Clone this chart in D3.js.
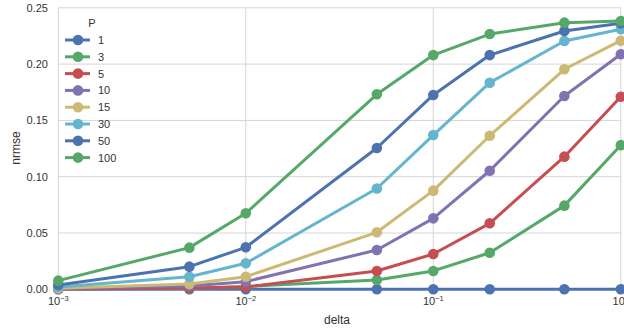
<!DOCTYPE html>
<html><head><meta charset="utf-8">
<script src="https://cdn.jsdelivr.net/npm/d3@7"></script>
<style>body{margin:0;background:#fff}svg{display:block;font-family:"Liberation Sans",Arial,sans-serif}</style>
</head><body><svg id="c" width="624" height="331"></svg>
<script>
const deltas = [0.001, 0.005, 0.01, 0.05, 0.1, 0.2, 0.5, 1.0];
const pLabels = ["1", "3", "5", "10", "15", "30", "50", "100"];
const colors = ["#4c72b0", "#55a868", "#c44e52", "#8172b2", "#ccb974", "#64b5cd", "#4c72b0", "#55a868"];
const p1   = [0, 0, 0, 0, 0, 0, 0, 0];
const p3   = [0.0004, 0.001, 0.0025, 0.0083, 0.0163, 0.0325, 0.0743, 0.128];
const p5   = [0.0003, 0.0012, 0.002, 0.0163, 0.0313, 0.0586, 0.1178, 0.171];
const p10  = [0.0006, 0.003, 0.0068, 0.0349, 0.063, 0.1053, 0.1717, 0.2087];
const p15  = [0.001, 0.0047, 0.0112, 0.0506, 0.0876, 0.1364, 0.1954, 0.2208];
const p30  = [0.002, 0.0112, 0.0231, 0.0895, 0.137, 0.1835, 0.2205, 0.2309];
const p50  = [0.0038, 0.0201, 0.0373, 0.1255, 0.1726, 0.208, 0.2294, 0.2362];
const p100 = [0.0077, 0.037, 0.0675, 0.1732, 0.208, 0.2267, 0.2368, 0.2383];
const series = [p1, p3, p5, p10, p15, p30, p50, p100];
const yTicks = [0, 0.05, 0.10, 0.15, 0.20, 0.25];
const xTicks = [0.001, 0.01, 0.1, 1];
const xTickExp = ["−3", "−2", "−1", "0"];

const svg = d3.select("#c");
const L = 58.3, R = 620.8, T = 7.8, B = 289.3;
const x = d3.scaleLog().domain([0.001, 1]).range([L, R]);
const y = d3.scaleLinear().domain([0, 0.25]).range([B, T]);

// grid
const g = svg.append("g");
g.selectAll(".gy").data(yTicks).enter().append("line")
  .attr("x1", L).attr("x2", R).attr("y1", d => y(d)).attr("y2", d => y(d))
  .attr("stroke", "#d5d5d5").attr("stroke-width", 1);
g.selectAll(".gx").data(xTicks).enter().append("line")
  .attr("y1", T).attr("y2", B).attr("x1", d => x(d)).attr("x2", d => x(d))
  .attr("stroke", "#d5d5d5").attr("stroke-width", 1);

// y tick labels
svg.selectAll(".yl").data(yTicks).enter().append("text")
  .attr("x", 48).attr("y", d => y(d) + 4).attr("text-anchor", "end")
  .attr("font-size", 11).attr("fill", "#333").text(d => d.toFixed(2));
// x tick labels
const xl = svg.selectAll(".xl").data(xTicks).enter().append("text")
  .attr("x", d => x(d)).attr("y", 305).attr("text-anchor", "middle")
  .attr("font-size", 11).attr("fill", "#333");
xl.append("tspan").text("10");
xl.append("tspan").attr("font-size", 7.5).attr("dy", -4).text((d, i) => xTickExp[i]);

svg.append("text").attr("x", 337).attr("y", 324).attr("text-anchor", "middle")
  .attr("font-size", 12).attr("fill", "#333").text("delta");
svg.append("text").attr("transform", "translate(20,148) rotate(-90)").attr("text-anchor", "middle")
  .attr("font-size", 12).attr("fill", "#333").text("nrmse");

// lines
const line = d3.line().x((d, i) => x(deltas[i])).y(d => y(d));
series.forEach((s, k) => {
  const sg = svg.append("g");
  sg.append("path").datum(s).attr("d", line).attr("fill", "none")
    .attr("stroke", colors[k]).attr("stroke-width", 3).attr("stroke-linejoin", "round");
  sg.selectAll("circle").data(s).enter().append("circle")
    .attr("cx", (d, i) => x(deltas[i])).attr("cy", d => y(d)).attr("r", 5.3)
    .attr("fill", colors[k]);
});

// legend
const lg = svg.append("g");
lg.append("text").attr("x", 92).attr("y", 26.5).attr("text-anchor", "middle")
  .attr("font-size", 11).attr("fill", "#333").text("P");
pLabels.forEach((lab, k) => {
  const yy = 40 + k * 16.8;
  lg.append("line").attr("x1", 65).attr("x2", 90).attr("y1", yy).attr("y2", yy)
    .attr("stroke", colors[k]).attr("stroke-width", 3);
  lg.append("circle").attr("cx", 78).attr("cy", yy).attr("r", 5.3).attr("fill", colors[k]);
  lg.append("text").attr("x", 98).attr("y", yy + 4).attr("font-size", 11).attr("fill", "#333").text(lab);
});
</script></body></html>
